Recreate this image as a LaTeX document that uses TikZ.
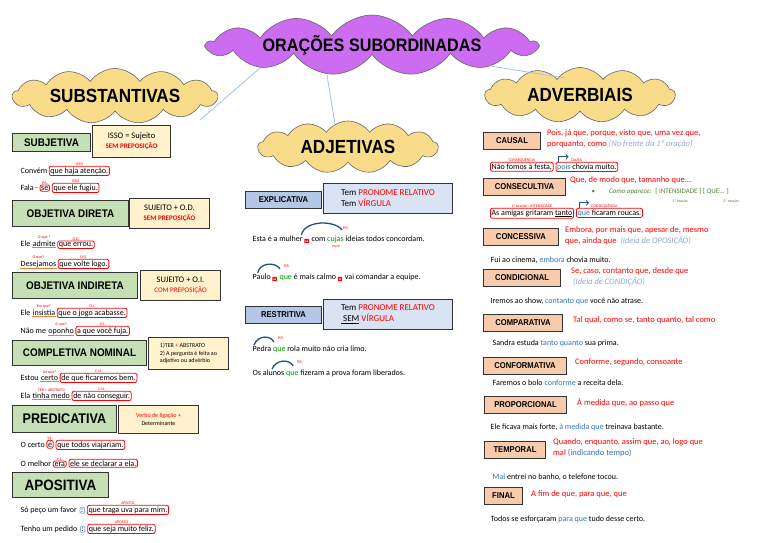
\documentclass[tikz,border=0pt]{standalone}
\usepackage{fontspec}
\setmainfont{Carlito}
\newfontfamily\hf{Liberation Sans}[FakeStretch=0.9]
\newfontfamily\cf{Carlito}
\usetikzlibrary{shapes.symbols}
\definecolor{cpurple}{HTML}{CC6CF0}
\definecolor{cyel}{HTML}{F9DC8A}
\definecolor{cgreen}{HTML}{C5E0B4}
\definecolor{cside}{HTML}{FFF2CC}
\definecolor{cblue}{HTML}{B4C7E7}
\definecolor{cbside}{HTML}{DAE3F3}
\definecolor{corange}{HTML}{F8CBAD}
\definecolor{cltblue}{HTML}{8EA9DB}
\definecolor{cdblue}{HTML}{2E75B6}
\definecolor{cgtext}{HTML}{548235}
\definecolor{cline}{HTML}{9DC3E6}
\definecolor{cunder}{HTML}{ED7D31}
\begin{document}
\begin{tikzpicture}[x=1pt,y=-1pt,
  cl/.style={cloud, cloud puffs=13, cloud puff arc=110, draw=black!60, line width=0.6pt, inner sep=0pt},
  ct/.style={font=\hf\bfseries\fontsize{19}{21}\selectfont},
  hd/.style={draw=black!80, line width=1pt, inner sep=0pt, anchor=north west, font=\hf\bfseries\fontsize{11}{13}\selectfont},
  sd/.style={draw=black!80, line width=1pt, fill=cside, inner sep=1pt, anchor=north west, align=center, font=\cf\fontsize{8.5}{10}\selectfont},
  tx/.style={font=\cf\fontsize{8}{9.5}\selectfont, inner sep=0.5pt, anchor=base west},
  hl/.style={tx, draw=red, rounded corners=2pt, inner sep=1.2pt, line width=0.8pt},
  lab/.style={font=\cf\fontsize{4}{5}\selectfont, text=red, inner sep=0pt, anchor=south},
  rt/.style={font=\cf\fontsize{8.5}{11}\selectfont, text=red, inner sep=0pt, anchor=north west, align=left},
  link/.style={cline, line width=0.8pt},
  arc/.style={cdblue!70!black, line width=1.3pt}
]
\useasboundingbox (0,0) rectangle (768,543);
\fill[white] (0,0) rectangle (768,543);

% clouds
\node[cl, fill=cpurple, minimum width=330pt, minimum height=60pt, aspect=5.5] (main) at (372,45) {};
\node[font=\hf\bfseries\fontsize{18}{20}\selectfont] (maint) at (372,45) {ORAÇÕES SUBORDINADAS};
\node[cl, fill=cyel, minimum width=205pt, minimum height=55pt, aspect=3.7] (subs) at (115,96) {};
\node[ct] at (115,96) {SUBSTANTIVAS};
\node[cl, fill=cyel, minimum width=180pt, minimum height=52pt, aspect=3.5] (adj) at (348,147) {};
\node[ct] at (348,147) {ADJETIVAS};
\node[cl, fill=cyel, minimum width=190pt, minimum height=55pt, aspect=3.4] (adv) at (580,95) {};
\node[ct] at (580,95) {ADVERBIAIS};
\coordinate (m1) at (260,68); \coordinate (s1) at (200,120);
\coordinate (m2) at (327,75); \coordinate (a1) at (335,124);
\coordinate (m3) at (490,66); \coordinate (v1) at (565,78);
\draw[link] (m1) -- (s1);
\draw[link] (m2) -- (a1);
\draw[link] (m3) -- (v1);

% ===== LEFT =====
\node[hd, fill=cgreen, minimum width=78pt, minimum height=18pt] (subj) at (12,133) {SUBJETIVA};
\node[sd, minimum width=78pt, minimum height=32pt] (subjs) at (92,125) {ISSO = Sujeito\\\textcolor{red}{\bfseries\fontsize{7}{8.5}\selectfont SEM PREPOSIÇÃO}};
\node[tx] (t1a) at (20,173) {Convém};
\node[hl] (t1b) at ([xshift=1pt]t1a.base east) {que haja atenção.};
\node[lab] at (t1b.north) {ISSO};
\node[tx] (t2a) at (20,190) {Fala -};
\node[hl] (t2b) at ([xshift=1pt]t2a.base east) {se};
\node[hl] (t2c) at ([xshift=2pt]t2b.base east) {que ele fugiu.};
\node[lab] at (t2b.north) {P.A.};
\node[lab] at (t2c.north) {ISSO};

\node[hd, fill=cgreen, minimum width=116pt, minimum height=26pt] (od) at (12,200) {OBJETIVA DIRETA};
\node[sd, minimum width=80pt, minimum height=30pt] (ods) at (129,198) {SUJEITO + O.D.\\\textcolor{red}{\bfseries\fontsize{7}{8.5}\selectfont SEM PREPOSIÇÃO}};
\node[tx] (t3a) at (20,246) {Ele};
\node[tx] (t3b) at ([xshift=1pt]t3a.base east) {admite};
\draw[cunder] (t3b.south west) -- (t3b.south east);
\node[hl] (t3c) at ([xshift=1pt]t3b.base east) {que errou.};
\node[lab] at (t3b.north) {O que ?};
\node[lab] at (t3c.north) {O.D.};
\node[tx] (t4a) at (20,266) {Desejamos};
\draw[cunder] (t4a.south west) -- (t4a.south east);
\node[hl] (t4b) at ([xshift=1pt]t4a.base east) {que volte logo.};
\node[lab] at (t4a.north) {O que?};
\node[lab] at (t4b.north) {O.D.};

\node[hd, fill=cgreen, minimum width=125pt, minimum height=26pt] (oi) at (12,272) {OBJETIVA INDIRETA};
\node[sd, minimum width=80pt, minimum height=30pt] (ois) at (140,270) {SUJEITO + O.I.\\\textcolor{red}{\fontsize{7}{8.5}\selectfont COM PREPOSIÇÃO}};
\node[tx] (t5a) at (20,315) {Ele};
\node[tx] (t5b) at ([xshift=1pt]t5a.base east) {insistia};
\draw[cunder] (t5b.south west) -- (t5b.south east);
\node[hl] (t5c) at ([xshift=1pt]t5b.base east) {que o jogo acabasse.};
\node[lab] at (t5b.north) {Em que?};
\node[lab] at (t5c.north) {O.I.};
\node[tx] (t6a) at (20,333) {Não me};
\node[tx] (t6b) at ([xshift=1pt]t6a.base east) {oponho};
\draw[cunder] (t6b.south west) -- (t6b.south east);
\node[hl] (t6c) at ([xshift=1pt]t6b.base east) {a que você fuja.};
\node[lab] at (t6b.north) {A que?};
\node[lab] at (t6c.north) {O.I.};

\node[hd, fill=cgreen, minimum width=134pt, minimum height=25pt] (cn) at (12,340) {COMPLETIVA NOMINAL};
\node[sd, minimum width=80pt, minimum height=32pt, align=left, font=\cf\fontsize{6}{7.5}\selectfont] (cns) at (148,337) {1)TER \textcolor{red}{+} ABSTRATO\\2) A pergunta é feita ao\\adjetivo ou advérbio};
\node[tx] (t7a) at (20,380) {Estou};
\node[tx] (t7b) at ([xshift=1pt]t7a.base east) {certo};
\draw[cunder] (t7b.south west) -- (t7b.south east);
\node[hl] (t7c) at ([xshift=1pt]t7b.base east) {de que ficaremos bem.};
\node[lab] at (t7b.north) {De que?};
\node[lab] at (t7c.north) {C.N.};
\node[tx] (t8a) at (20,398) {Ela};
\node[tx] (t8b) at ([xshift=1pt]t8a.base east) {tinha medo};
\draw[cunder] (t8b.south west) -- (t8b.south east);
\node[hl] (t8c) at ([xshift=1pt]t8b.base east) {de não conseguir.};
\node[lab] at (t8b.north) {TER + ABSTRATO};
\node[lab] at (t8c.north) {C.N.};

\node[hd, fill=cgreen, minimum width=104pt, minimum height=27pt, font=\hf\bfseries\fontsize{14}{16}\selectfont] (pr) at (12,405) {PREDICATIVA};
\node[sd, minimum width=80pt, minimum height=28pt, font=\cf\fontsize{6}{7.5}\selectfont] (prs) at (118,405) {\textcolor{red}{Verbo de ligação +}\\Determinante};
\node[tx] (t9a) at (20,447) {O certo};
\node[hl] (t9b) at ([xshift=1pt]t9a.base east) {é};
\node[hl] (t9c) at ([xshift=2pt]t9b.base east) {que todos viajariam.};
\node[lab] at (t9b.north) {V.L.};
\node[tx] (t10a) at (20,466) {O melhor};
\node[hl] (t10b) at ([xshift=1pt]t10a.base east) {era};
\node[hl] (t10c) at ([xshift=2pt]t10b.base east) {ele se declarar a ela.};
\node[lab] at (t10b.north) {V.L.};

\node[hd, fill=cgreen, minimum width=96pt, minimum height=25pt, font=\hf\bfseries\fontsize{15}{17}\selectfont] (ap) at (12,472) {APOSITIVA};
\node[tx] (t11a) at (20,512) {Só peço um favor};
\node[hl, draw=cltblue, rounded corners=1pt] (t11b) at ([xshift=2pt]t11a.base east) {:};
\node[hl] (t11c) at ([xshift=2pt]t11b.base east) {que traga uva para mim.};
\node[lab] at (t11c.north) {APOSTO};
\node[tx] (t12a) at (20,531) {Tenho um pedido};
\node[hl, draw=cltblue, rounded corners=1pt] (t12b) at ([xshift=2pt]t12a.base east) {:};
\node[hl] (t12c) at ([xshift=2pt]t12b.base east) {que seja muito feliz.};
\node[lab] at (t12c.north) {APOSTO};

% ===== MIDDLE =====
\node[hd, fill=cblue, minimum width=76pt, minimum height=17pt, font=\hf\bfseries\fontsize{8.5}{10}\selectfont] (ex) at (245,191) {EXPLICATIVA};
\node[sd, fill=cbside, minimum width=129pt, minimum height=30pt, align=left, font=\cf\fontsize{9}{11}\selectfont] (exs) at (323,183) {Tem \textcolor{red}{PRONOME RELATIVO}\\Tem \textcolor{red}{VÍRGULA}};
\node[tx] (u1a) at (252,241) {Esta é a mulher};
\node[hl, inner sep=0.8pt] (u1b) at ([xshift=1pt]u1a.base east) {,};
\node[tx] (u1c) at ([xshift=2pt]u1b.base east) {com \textcolor{green!60!black}{cujas} ideias todos concordam.};
\draw[arc] ([xshift=-2pt]u1a.north east) .. controls (305,220) and (335,220) .. (342,230);
\node[lab] at (346,230) {P.R.};
\node[lab, anchor=north] at (336,245) {num};
\node[tx] (u2a) at (252,279) {Paulo};
\node[hl, inner sep=0.8pt] (u2b) at ([xshift=1pt]u2a.base east) {,};
\node[tx] (u2c) at ([xshift=2pt]u2b.base east) {\textcolor{green!60!black}{que} é mais calmo};
\node[hl, inner sep=0.8pt] (u2d) at ([xshift=1pt]u2c.base east) {,};
\node[tx] (u2e) at ([xshift=2pt]u2d.base east) {vai comandar a equipe.};
\draw[arc] ([xshift=-4pt]u2a.north) .. controls (260,262) and (276,262) .. (280,269);
\node[lab] at (287,268) {P.R.};

\node[hd, fill=cblue, minimum width=76pt, minimum height=17pt, font=\hf\bfseries\fontsize{8.5}{10}\selectfont] (re) at (245,306) {RESTRITIVA};
\node[sd, fill=cbside, minimum width=129pt, minimum height=30pt, align=left, font=\cf\fontsize{9}{11}\selectfont] (res) at (323,299) {Tem \textcolor{red}{PRONOME RELATIVO}\\\underline{\ SEM} \textcolor{red}{VÍRGULA}};
\node[tx] (u3a) at (252,351) {Pedra \textcolor{green!60!black}{que} rola muito não cria limo.};
\draw[arc] (254,345) .. controls (258,335) and (270,335) .. (274,342);
\node[lab] at (281,340) {P.R.};
\node[tx] (u4a) at (252,375) {Os alunos \textcolor{green!60!black}{que} fizeram a prova foram liberados.};
\draw[arc] (272,369) .. controls (276,359) and (290,359) .. (293,366);
\node[lab] at (300,364) {P.R.};

% ===== RIGHT =====
\tikzset{rh/.style={hd, fill=corange, minimum height=17pt, font=\hf\bfseries\fontsize{8.5}{10}\selectfont}}
\node[rh, minimum width=57pt] (ca) at (483,132) {CAUSAL};
\node[rt] at (547,129) {Pois, já que, porque, visto que, uma vez que,\\porquanto, como \textcolor{cltblue}{\itshape(No frente da 1ª oração)}};
\node[hl] (r1a) at (490,169) {Não fomos à festa,};
\node[hl] (r1b) at ([xshift=2pt]r1a.base east) {\textcolor{cdblue}{pois} chovia muito.};
\node[lab] at (r1a.north) {CONSEQUÊNCIA};
\node[lab, anchor=south west] at ([xshift=15pt]r1b.north west) {CAUSA};
\draw[arc, ->, line width=1pt] ([xshift=3pt]r1b.north west) -- ++(0,-5) -- ++(10,0);

\node[rh, minimum width=82pt] (cs) at (483,178) {CONSECULTIVA};
\node[rt] at (570,176) {Que, de modo que, tamanho que...};
\node[font=\cf\fontsize{7}{8}\selectfont, text=cgtext, anchor=west] at (588,192) {\textbullet\qquad\textit{Como aparece:} \ [ INTENSIDADE ] [ QUE... ]};
\node[font=\cf\fontsize{4}{5}\selectfont, text=cgtext] at (680,201) {1ª oração};
\node[font=\cf\fontsize{4}{5}\selectfont, text=cgtext] at (731,201) {2ª oração};
\node[hl] (r2a) at (490,215) {As amigas gritaram \underline{tanto}\ };
\node[hl] (r2b) at ([xshift=2pt]r2a.base east) {\textcolor{cdblue}{que} ficaram roucas.};
\node[lab] at (r2a.north) {1ª oração : INTENSIDADE};
\node[lab, anchor=south west] at ([xshift=15pt]r2b.north west) {CONSEQUÊNCIA};
\draw[arc, ->, line width=1pt] ([xshift=3pt]r2b.north west) -- ++(0,-5) -- ++(10,0);

\node[rh, minimum width=75pt] (cc) at (483,228) {CONCESSIVA};
\node[rt] at (565,226) {Embora, por mais que, apesar de, mesmo\\que, ainda que \ \textcolor{cltblue}{\itshape(Ideia de OPOSIÇÃO)}};
\node[tx] at (490,262) {Fui ao cinema, \textcolor{cdblue}{embora} chovia muito.};

\node[rh, minimum width=77pt] (cd) at (483,269) {CONDICIONAL};
\node[rt] at (571,267) {Se, caso, contanto que, desde que\\\ \textcolor{cltblue}{\itshape(Ideia de CONDIÇÃO)}};
\node[tx] at (490,303) {Iremos ao show, \textcolor{cdblue}{contanto que} você não atrase.};

\node[rh, minimum width=79pt] (cp) at (483,314) {COMPARATIVA};
\node[rt] at (573,316) {Tal qual, como se, tanto quanto, tal como};
\node[tx] at (492,345) {Sandra estuda \textcolor{cdblue}{tanto quanto} sua prima.};

\node[rh, minimum width=83pt] (cf) at (483,357) {CONFORMATIVA};
\node[rt] at (575,358) {Conforme, segundo, consoante};
\node[tx] at (492,385) {Faremos o bolo \textcolor{cdblue}{conforme} a receita dela.};

\node[rh, minimum width=82pt] (pp) at (484,396) {PROPORCIONAL};
\node[rt] at (577,398) {À medida que, ao passo que};
\node[tx] at (490,429) {Ele ficava mais forte, \textcolor{cdblue}{à medida que} treinava bastante.};

\node[rh, minimum width=61pt] (tp) at (484,441) {TEMPORAL};
\node[rt] at (553,438) {Quando, enquanto, assim que, ao, logo que\\mal \textcolor{cdblue}{(indicando tempo)}};
\node[tx] at (492,479) {\textcolor{cdblue}{Mal} entrei no banho, o telefone tocou.};

\node[rh, minimum width=38pt] (fi) at (484,487) {FINAL};
\node[rt] at (531,490) {A fim de que, para que, que};
\node[tx] at (490,521) {Todos se esforçaram \textcolor{cdblue}{para que} tudo desse certo.};
\end{tikzpicture}
\end{document}
